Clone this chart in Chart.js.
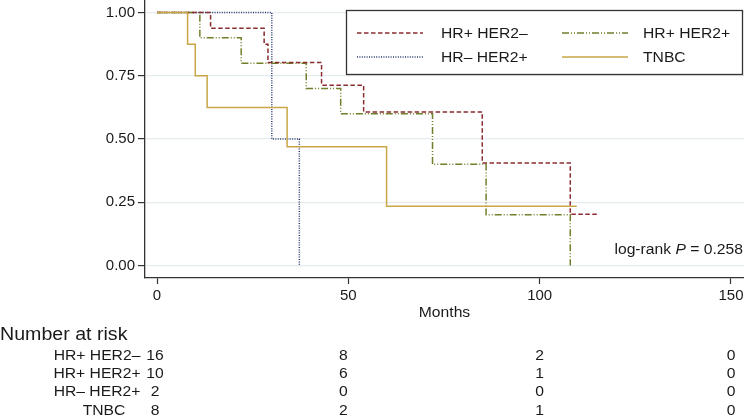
<!DOCTYPE html>
<html>
<head>
<meta charset="utf-8">
<script src="https://cdn.jsdelivr.net/npm/chart.js@4.4.1/dist/chart.umd.min.js"></script>
<style>
  html, body { margin: 0; padding: 0; background: #ffffff; }
  #wrap { width: 744px; height: 420px; }
</style>
</head>
<body>
<div id="wrap"><canvas id="c" width="744" height="420"></canvas></div>
<script>
// ---- Data ----
const seriesNames = ['HR+ HER2\u2013', 'HR+ HER2+', 'HR\u2013 HER2+', 'TNBC'];

const hrPosHer2NegTimes = [0, 14, 28, 29, 43, 54, 85, 108, 115.6];
const hrPosHer2NegSurv  = [1.0, 0.9375, 0.875, 0.802, 0.713, 0.607, 0.405, 0.2025, 0.2025];

const hrPosHer2PosTimes = [0, 11.2, 22, 39, 48, 72, 86, 108];
const hrPosHer2PosSurv  = [1.0, 0.9, 0.8, 0.7, 0.6, 0.4, 0.2, 0.0];

const hrNegHer2PosTimes = [0, 30, 37.2];
const hrNegHer2PosSurv  = [1.0, 0.5, 0.0];

const tnbcTimes = [0, 8, 10, 13.1, 34, 60, 109.7];
const tnbcSurv  = [1.0, 0.875, 0.75, 0.625, 0.469, 0.234, 0.234];

const xTickValues = [0, 50, 100, 150];
const yTickValues = [0, 0.25, 0.5, 0.75, 1.0];

const riskTimes = [0, 50, 100, 150];
const riskHrPosHer2Neg = [16, 8, 2, 0];
const riskHrPosHer2Pos = [10, 6, 1, 0];
const riskHrNegHer2Pos = [2, 0, 0, 0];
const riskTnbc = [8, 2, 1, 0];

const logRankP = '0.258';

// ---- Styles ----
const FONT = "'Liberation Sans', Arial, Helvetica, sans-serif";
const SX = 1.12; // horizontal stretch of the reference's lettering
const styles = {
  hrPosHer2Neg: { color: '#8a2d30', dash: [4.5, 2.5] },
  hrPosHer2Pos: { color: '#6f7f2a', dash: [7, 2, 1, 2, 1, 2] },
  hrNegHer2Pos: { color: '#2b3a6e', dash: [1, 1.4] },
  tnbc:         { color: '#c9a646', dash: [] }
};

function pts(t, s) { return t.map((v, i) => ({ x: v, y: s[i] })); }

function ds(label, t, s, st) {
  return {
    label: label,
    data: pts(t, s),
    borderColor: st.color,
    backgroundColor: st.color,
    borderWidth: 1.5,
    borderDash: st.dash,
    stepped: true,
    pointRadius: 0,
    fill: false,
    tension: 0
  };
}

// Dataset 0 is drawn on top in Chart.js
const datasets = [
  ds(seriesNames[3], tnbcTimes, tnbcSurv, styles.tnbc),
  ds(seriesNames[0], hrPosHer2NegTimes, hrPosHer2NegSurv, styles.hrPosHer2Neg),
  ds(seriesNames[1], hrPosHer2PosTimes, hrPosHer2PosSurv, styles.hrPosHer2Pos),
  ds(seriesNames[2], hrNegHer2PosTimes, hrNegHer2PosSurv, styles.hrNegHer2Pos)
];

function sText(ctx, text, x, y, align, font) {
  ctx.save();
  ctx.font = font;
  ctx.textBaseline = 'middle';
  ctx.textAlign = 'left';
  const w = ctx.measureText(text).width * SX;
  let left = x;
  if (align === 'center') left = x - w / 2;
  else if (align === 'right') left = x - w;
  ctx.translate(left, y);
  ctx.scale(SX, 1);
  ctx.fillText(text, 0, 0);
  ctx.restore();
  return w;
}

const extras = {
  id: 'extras',
  afterDraw(chart) {
    const ctx = chart.ctx;
    const xs = chart.scales.x;
    const ca = chart.chartArea;
    const f14 = '14px ' + FONT;
    ctx.save();
    ctx.fillStyle = '#1a1a1a';

    // x-axis title
    sText(ctx, 'Months', (ca.left + ca.right) / 2, 313, 'center', f14);

    // log-rank text
    ctx.font = f14;
    const pre = 'log-rank ';
    const post = ' = ' + logRankP;
    const w1 = ctx.measureText(pre).width * SX;
    const w3 = ctx.measureText(post).width * SX;
    ctx.font = 'italic ' + f14;
    const w2 = ctx.measureText('P').width * SX;
    const x0 = 743 - (w1 + w2 + w3);
    const yL = 250;
    sText(ctx, pre, x0, yL, 'left', f14);
    sText(ctx, 'P', x0 + w1, yL, 'left', 'italic ' + f14);
    sText(ctx, post, x0 + w1 + w2, yL, 'left', f14);

    // Legend box
    const lx = 346.5, ly = 10.5, lw = 396, lh = 64;
    ctx.fillStyle = '#ffffff';
    ctx.fillRect(lx, ly, lw, lh);
    ctx.strokeStyle = '#333333';
    ctx.lineWidth = 1.3;
    ctx.setLineDash([]);
    ctx.strokeRect(lx, ly, lw, lh);
    const legendItems = [
      { name: seriesNames[0], st: styles.hrPosHer2Neg, sx: 357, tx: 441, y: 33 },
      { name: seriesNames[1], st: styles.hrPosHer2Pos, sx: 562, tx: 643, y: 33 },
      { name: seriesNames[2], st: styles.hrNegHer2Pos, sx: 357, tx: 441, y: 57 },
      { name: seriesNames[3], st: styles.tnbc,         sx: 562, tx: 643, y: 57 }
    ];
    legendItems.forEach(it => {
      ctx.strokeStyle = it.st.color;
      ctx.lineWidth = 1.5;
      ctx.setLineDash(it.st.dash);
      ctx.beginPath();
      ctx.moveTo(it.sx, it.y);
      ctx.lineTo(it.sx + 66, it.y);
      ctx.stroke();
      ctx.setLineDash([]);
      ctx.fillStyle = '#1a1a1a';
      sText(ctx, it.name, it.tx, it.y + 1, 'left', f14);
    });

    // Number at risk table
    ctx.fillStyle = '#1a1a1a';
    sText(ctx, 'Number at risk', 0, 335, 'left', '17.5px ' + FONT);
    const rows = [
      { name: seriesNames[0], vals: riskHrPosHer2Neg, y: 356, lx: 97 },
      { name: seriesNames[1], vals: riskHrPosHer2Pos, y: 374.3, lx: 97 },
      { name: seriesNames[2], vals: riskHrNegHer2Pos, y: 392.6, lx: 97 },
      { name: seriesNames[3], vals: riskTnbc, y: 411, lx: 104 }
    ];
    const numShift = [-2, -5, 0, 0];
    rows.forEach(r => {
      sText(ctx, r.name, r.lx, r.y, 'center', f14);
      r.vals.forEach((v, i) => {
        sText(ctx, String(v), xs.getPixelForValue(riskTimes[i]) + numShift[i], r.y, 'center', f14);
      });
    });
    ctx.restore();
  }
};

new Chart(document.getElementById('c'), {
  type: 'line',
  data: { datasets: datasets },
  options: {
    responsive: false,
    animation: false,
    devicePixelRatio: 1,
    layout: { padding: 0 },
    plugins: { legend: { display: false }, tooltip: { enabled: false }, title: { display: false } },
    scales: {
      x: {
        type: 'linear',
        min: -3.136,
        max: 153.4,
        afterBuildTicks: s => { s.ticks = xTickValues.map(v => ({ value: v })); },
        afterFit: s => { s.height = 142; s.paddingLeft = 0; s.paddingRight = 0; },
        grid: { drawOnChartArea: false, drawTicks: true, tickLength: 6, tickColor: '#333333', tickWidth: 1.2 },
        border: { display: true, color: '#333333', width: 1.3 },
        ticks: { color: '#1a1a1a', font: { family: FONT, size: 15 }, padding: 3, maxRotation: 0, autoSkip: false }
      },
      y: {
        type: 'linear',
        min: -0.0496,
        max: 1.0496,
        afterBuildTicks: s => { s.ticks = yTickValues.map(v => ({ value: v })); },
        afterFit: s => { s.width = 145; s.paddingTop = 0; s.paddingBottom = 0; },
        grid: { drawOnChartArea: true, color: '#e4ecef', lineWidth: 1.2, drawTicks: true, tickLength: 7, tickColor: '#333333', tickWidth: 1.2 },
        border: { display: true, color: '#333333', width: 1.3 },
        ticks: { color: '#1a1a1a', font: { family: FONT, size: 15 }, padding: 3, autoSkip: false,
                 callback: v => Number(v).toFixed(2) }
      }
    }
  },
  plugins: [extras]
});
</script>
</body>
</html>
